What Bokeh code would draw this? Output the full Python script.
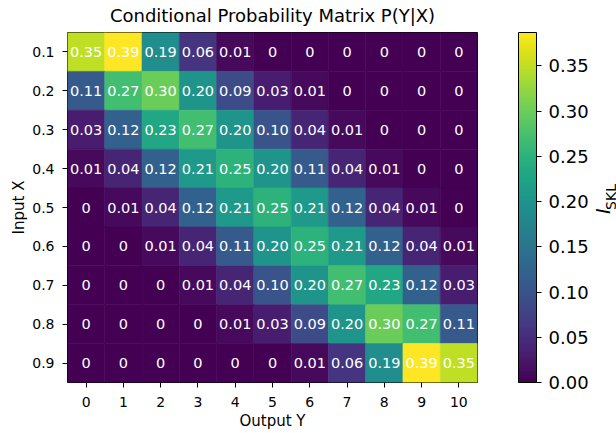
from math import pi
from bokeh.plotting import figure
from bokeh.layouts import row
from bokeh.models import (ColumnDataSource, LinearColorMapper, ColorBar, FixedTicker,
                          PrintfTickFormatter, Range1d)
from bokeh.palettes import Viridis256
from bokeh.transform import transform
from bokeh.core.properties import value
from bokeh.embed import file_html
from bokeh.resources import INLINE

# ---- data ----
output_y = [str(i) for i in range(11)]
input_x = ["0.1", "0.2", "0.3", "0.4", "0.5", "0.6", "0.7", "0.8", "0.9"]

p_x01 = [0.35, 0.39, 0.19, 0.06, 0.01, 0, 0, 0, 0, 0, 0]
p_x02 = [0.11, 0.27, 0.30, 0.20, 0.09, 0.03, 0.01, 0, 0, 0, 0]
p_x03 = [0.03, 0.12, 0.23, 0.27, 0.20, 0.10, 0.04, 0.01, 0, 0, 0]
p_x04 = [0.01, 0.04, 0.12, 0.21, 0.25, 0.20, 0.11, 0.04, 0.01, 0, 0]
p_x05 = [0, 0.01, 0.04, 0.12, 0.21, 0.25, 0.21, 0.12, 0.04, 0.01, 0]
p_x06 = [0, 0, 0.01, 0.04, 0.11, 0.20, 0.25, 0.21, 0.12, 0.04, 0.01]
p_x07 = [0, 0, 0, 0.01, 0.04, 0.10, 0.20, 0.27, 0.23, 0.12, 0.03]
p_x08 = [0, 0, 0, 0, 0.01, 0.03, 0.09, 0.20, 0.30, 0.27, 0.11]
p_x09 = [0, 0, 0, 0, 0, 0, 0.01, 0.06, 0.19, 0.39, 0.35]

cbar_ticks = [0.0, 0.05, 0.10, 0.15, 0.20, 0.25, 0.30, 0.35]
color_low = 0.0
color_high = 0.387

title_text = "Conditional Probability Matrix P(Y|X)"
cbar_label_main = "I"
cbar_label_sub = "SKL"

rows = [p_x01, p_x02, p_x03, p_x04, p_x05, p_x06, p_x07, p_x08, p_x09]
xs, ys, vals, labs = [], [], [], []
for xi, r in zip(input_x, rows):
    for yj, v in zip(output_y, r):
        xs.append(yj)
        ys.append(xi)
        vals.append(v)
        labs.append("0" if v == 0 else f"{v:.2f}")
src = ColumnDataSource(dict(out=xs, inp=ys, val=vals, lab=labs))

FONT = "DejaVu Sans"
W, H = 588, 433
LEFT, TOP, FW, FH = 67, 32, 410, 350

p = figure(x_range=output_y, y_range=list(reversed(input_x)),
           width=W, height=H,
           min_border_left=LEFT, min_border_top=TOP,
           min_border_right=W - LEFT - FW, min_border_bottom=H - TOP - FH,
           output_backend="svg", toolbar_location=None)

mapper = LinearColorMapper(palette=Viridis256, low=color_low, high=color_high)
p.rect(x="out", y="inp", width=1, height=1, source=src,
       fill_color=transform("val", mapper), line_color=transform("val", mapper), line_width=0.6)
p.text(x="out", y="inp", text="lab", source=src, text_color="white",
       text_font=value(FONT), text_font_size="14.5px",
       text_align="center", text_baseline="middle")

p.title.text = title_text
p.title.align = "center"
p.title.vertical_align = "top"
p.title.text_font = FONT
p.title.text_font_size = "18px"
p.title.text_font_style = "normal"
p.title.text_color = "black"
p.title.standoff = 9

p.grid.visible = False
p.outline_line_color = "black"
p.outline_line_width = 1
p.outline_line_alpha = 1
for ax in (p.xaxis, p.yaxis):
    ax.axis_line_color = None
    ax.major_tick_out = 5
    ax.major_tick_in = 0
    ax.major_tick_line_color = "black"
    ax.minor_tick_line_color = None
    ax.major_label_text_font = FONT
    ax.major_label_text_font_size = "14px"
    ax.major_label_text_color = "black"
    ax.axis_label_text_font = FONT
    ax.axis_label_text_font_size = "15px"
    ax.axis_label_text_font_style = "normal"
    ax.axis_label_text_color = "black"
p.xaxis.axis_label = "Output Y"
p.yaxis.axis_label = "Input X"
p.xaxis.major_label_standoff = 9
p.xaxis.axis_label_standoff = 2
p.yaxis.major_label_standoff = 8
p.yaxis.axis_label_standoff = 1

cb = ColorBar(color_mapper=mapper, ticker=FixedTicker(ticks=cbar_ticks),
              formatter=PrintfTickFormatter(format="%.2f"),
              location=(451, 0),
              width=18, height=FH, padding=0, margin=0,
              bar_line_color="black", bar_line_width=1,
              major_tick_out=5, major_tick_in=0, major_tick_line_color="black",
              minor_tick_line_color=None,
              major_label_text_font=FONT, major_label_text_font_size="18px",
              major_label_text_color="black", label_standoff=7,
              border_line_color=None, background_fill_color=None)
p.add_layout(cb, "center")

# narrow strip to the right holding the rotated colour-bar label I_SKL
QW = 616 - W
q = figure(width=QW, height=H, x_range=Range1d(0, QW), y_range=Range1d(0, H),
           min_border=0, x_axis_location=None, y_axis_location=None,
           output_backend="svg", toolbar_location=None)
q.grid.visible = False
q.outline_line_color = None
q.text(x=[14], y=[212], text=[cbar_label_main], angle=pi / 2,
       text_font=value(FONT), text_font_style="italic", text_font_size="19px",
       text_align="center", text_baseline="middle", text_color="black")
q.text(x=[22.5], y=[229.5], text=[cbar_label_sub], angle=pi / 2,
       text_font=value(FONT), text_font_size="14px",
       text_align="center", text_baseline="middle", text_color="black")

layout = row(p, q)
open("out.html", "w").write(file_html(layout, INLINE))
